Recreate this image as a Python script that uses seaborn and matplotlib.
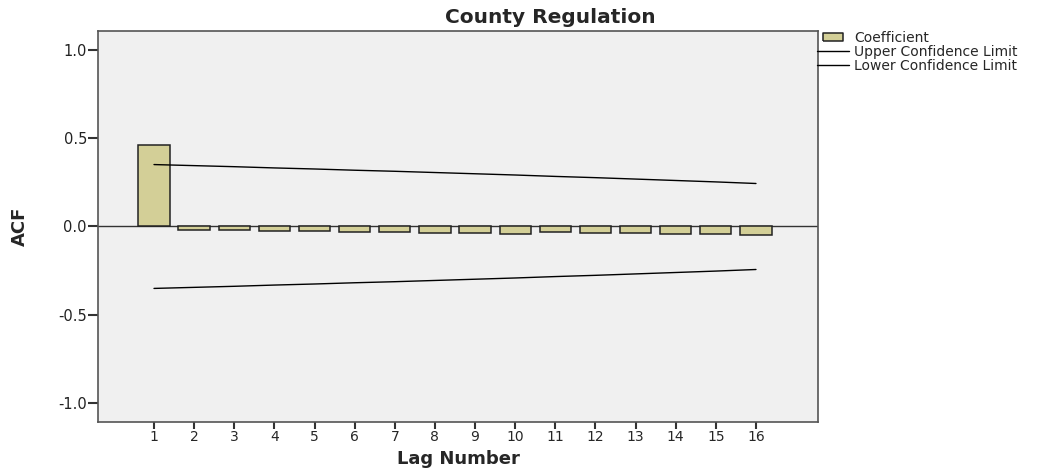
import numpy as np
import pandas as pd
import seaborn as sns
import matplotlib.pyplot as plt
from matplotlib.lines import Line2D

# data
lags = list(range(1, 17))
acf = [0.458, -0.017, -0.020, -0.024, -0.027, -0.030, -0.032, -0.036,
       -0.034, -0.041, -0.030, -0.034, -0.038, -0.041, -0.045, -0.048]
upper = [0.350, 0.344, 0.338, 0.331, 0.325, 0.318, 0.312, 0.305,
         0.298, 0.291, 0.283, 0.276, 0.268, 0.260, 0.252, 0.243]
lower = [-v for v in upper]
title = 'County Regulation'

df = pd.DataFrame({'lag': lags, 'acf': acf, 'upper': upper, 'lower': lower})

sns.set_style('white')
plt.rcParams['font.family'] = ['DejaVu Sans']

fig = plt.figure(figsize=(10.63, 4.70), dpi=100)
ax = fig.add_axes([0.0922, 0.1021, 0.6773, 0.832])
ax.set_facecolor('#f0f0f0')

bar_color = '#d3cf97'
sns.barplot(data=df, x='lag', y='acf', native_scale=True, color=bar_color,
            width=0.78, edgecolor='#222222', linewidth=1.1, saturation=1, ax=ax)
sns.lineplot(data=df, x='lag', y='upper', color='black', linewidth=1.0, ax=ax)
sns.lineplot(data=df, x='lag', y='lower', color='black', linewidth=1.0, ax=ax)
ax.axhline(0, color='#333333', linewidth=1.0, zorder=0.5)

ax.set_xlim(-0.395, 17.545)
ax.set_ylim(-1.105, 1.105)
ax.set_xticks(lags)
ax.set_xticklabels([str(l) for l in lags], fontsize=10)
ax.set_yticks([-1.0, -0.5, 0.0, 0.5, 1.0])
ax.set_yticklabels(['-1.0', '-0.5', '0.0', '0.5', '1.0'], fontsize=10.5, color='#222222')
ax.tick_params(axis='both', which='major', bottom=True, left=True, direction='out',
               length=7, width=1.5, color='#333333', pad=1)
ax.tick_params(axis='x', length=5, pad=1)
for s in ax.spines.values():
    s.set_color('#555555')
    s.set_linewidth(1.2)

ax.set_xlabel('Lag Number', fontsize=13, fontweight='bold', labelpad=4)
ax.set_ylabel('ACF', fontsize=13, fontweight='bold', labelpad=21)
fig.text(0.518, 0.962, title, ha='center', va='center', fontsize=14.5, fontweight='bold')

rect = [(-1, -0.38), (1, -0.38), (1, 0.38), (-1, 0.38), (-1, -0.38)]
handles = [Line2D([], [], linestyle='none', marker=rect, markersize=14,
                  markerfacecolor=bar_color, markeredgecolor='#222222', markeredgewidth=1.1),
           Line2D([], [], color='black', linewidth=1.0),
           Line2D([], [], color='black', linewidth=1.0)]
fig.legend(handles, ['Coefficient', 'Upper Confidence Limit', 'Lower Confidence Limit'],
           loc='upper left', bbox_to_anchor=(0.766, 0.94), frameon=False,
           fontsize=10, handlelength=2.3, handletextpad=0.35,
           labelspacing=0.0, borderaxespad=0, borderpad=0.2)

fig.savefig('out.png', dpi=100)
